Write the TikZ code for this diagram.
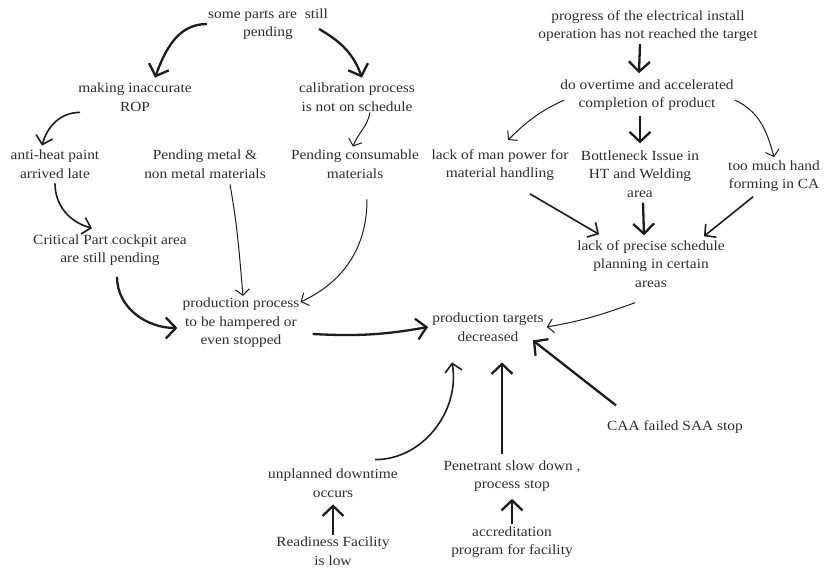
\documentclass[tikz,border=0pt]{standalone}
\usepackage{fontspec}
\setmainfont{Liberation Serif}[FakeStretch=1.1]
\usetikzlibrary{arrows.meta}
\definecolor{inkA}{RGB}{28,28,28}
\definecolor{txtA}{RGB}{45,45,45}

\begin{document}
\begin{tikzpicture}[x=1pt,y=1pt,
  cause/.style={align=center,inner sep=1pt,text=txtA,font=\fontsize{14}{18.5}\selectfont},
  linkB/.style={inkA,line width=2.3pt,-{Straight Barb[length=10pt,width=21pt]}},
  linkM/.style={inkA,line width=1.6pt,-{Straight Barb[length=8pt,width=17pt]}},
  linkT/.style={inkA,line width=1pt,-{Straight Barb[length=6pt,width=14pt]}}]
\useasboundingbox (0,0) rectangle (824,-572);
% left tree
\node[cause] (parts) at (268,-24) {some parts are\ \ still\\pending};
\node[cause] (rop) at (135,-97) {making inaccurate\\ROP};
\node[cause] (calib) at (357,-97) {calibration process\\is not on schedule};
\node[cause] (paint) at (55,-164) {anti-heat paint\\arrived late};
\node[cause] (metal) at (205,-164) {Pending metal \&\\non metal materials};
\node[cause] (consum) at (355,-164) {Pending consumable\\materials};
\node[cause] (cockpit) at (110,-250) {Critical Part cockpit area\\are still pending};
\node[cause] (hamper) at (241,-323) {production process\\to be hampered or\\even stopped};
% centre
\node[cause] (target) at (488,-327) {production targets\\decreased};
% right tree
\node[cause] (elec) at (648,-26) {progress of the electrical install\\operation has not reached the target};
\node[cause] (overtime) at (647,-95) {do overtime and accelerated\\completion of product};
\node[cause] (manpow) at (500,-165) {lack of man power for\\material handling};
\node[cause] (bottle) at (640,-174) {Bottleneck Issue in\\HT and Welding\\area};
\node[cause] (handform) at (774,-176) {too much hand\\forming in CA};
\node[cause] (sched) at (651,-264) {lack of precise schedule\\planning in certain\\areas};
% bottom
\node[cause] (caa) at (675,-427) {CAA failed SAA stop};
\node[cause] (downtime) at (333,-483) {unplanned downtime\\occurs};
\node[cause] (ready) at (333,-551) {Readiness Facility\\is low};
\node[cause] (penet) at (512,-476) {Penetrant slow down ,\\process stop};
\node[cause] (accred) at (512,-542) {accreditation\\program for facility};

\draw[linkB] (parts.west) to[out=180,in=70] ([xshift=20pt,yshift=4pt]rop.north);
\draw[linkB] ([xshift=-10pt,yshift=-5pt]parts.east) to[out=-30,in=110] ([xshift=5pt,yshift=4pt]calib.north);
\draw[linkM] ([xshift=3pt]rop.south west) to[out=180,in=75] ([xshift=-13pt,yshift=3pt]paint.north);
\draw[linkT] ([xshift=13pt]calib.south) to[out=-100,in=70] ([xshift=-2pt,yshift=2pt]consum.north);
\draw[linkM] ([yshift=-4pt]paint.south) to[out=-90,in=165] ([xshift=-18pt,yshift=5pt]cockpit.north);
\draw[linkT] ([xshift=25pt,yshift=-5pt]metal.south) to[out=-80,in=95] ([xshift=2pt,yshift=1pt]hamper.north);
\draw[linkT] ([xshift=12pt,yshift=-20pt]consum.south) to[out=-90,in=25] ([yshift=-5pt]hamper.north east);
\draw[linkB] ([xshift=7pt,yshift=-10pt]cockpit.south) to[out=-90,in=180] ([xshift=-4pt,yshift=-5pt]hamper.west);
\draw[linkB] ([xshift=12pt,yshift=-11pt]hamper.east) to[out=-3,in=190] ([xshift=-3pt]target.west);

\draw[linkB] ([xshift=-8pt,yshift=-1pt]elec.south) -- ([xshift=-8pt,yshift=5pt]overtime.north);
\draw[linkT] ([xshift=5pt,yshift=-5pt]overtime.west) to[out=205,in=45] ([xshift=8pt,yshift=8pt]manpow.north);
\draw[linkB] ([xshift=-7pt,yshift=-4pt]overtime.south) -- ([yshift=6pt]bottle.north);
\draw[linkT] ([yshift=-5pt]overtime.east) to[out=-25,in=105] ([yshift=2pt]handform.north);
\draw[linkM] ([xshift=30pt,yshift=-12pt]manpow.south) -- ([xshift=23pt,yshift=5pt]sched.north west);
\draw[linkB] ([xshift=3pt,yshift=-4pt]bottle.south) -- ([xshift=-7pt,yshift=4pt]sched.north);
\draw[linkM] ([xshift=-21pt,yshift=-4pt]handform.south) -- ([xshift=-22pt,yshift=3pt]sched.north east);
\draw[linkT] ([xshift=-16pt,yshift=-14pt]sched.south) to[out=200,in=10] ([xshift=2pt]target.east);

% into the target from below
\draw[linkB] ([xshift=10pt,yshift=14pt]caa.north west) -- ([xshift=-12pt,yshift=2pt]target.south east);
\draw[linkM] ([xshift=-24pt,yshift=8pt]downtime.north east) to[out=0,in=-80] ([xshift=-36pt,yshift=-20pt]target.south);
\draw[linkB] ([xshift=-10pt,yshift=5pt]penet.north) -- ([xshift=14pt,yshift=-20pt]target.south);
\draw[linkB] ([yshift=1pt]ready.north) -- ([yshift=-6pt]downtime.south);
\draw[linkB] ([yshift=1pt]accred.north) -- ([yshift=-6pt]penet.south);
\end{tikzpicture}
\end{document}
